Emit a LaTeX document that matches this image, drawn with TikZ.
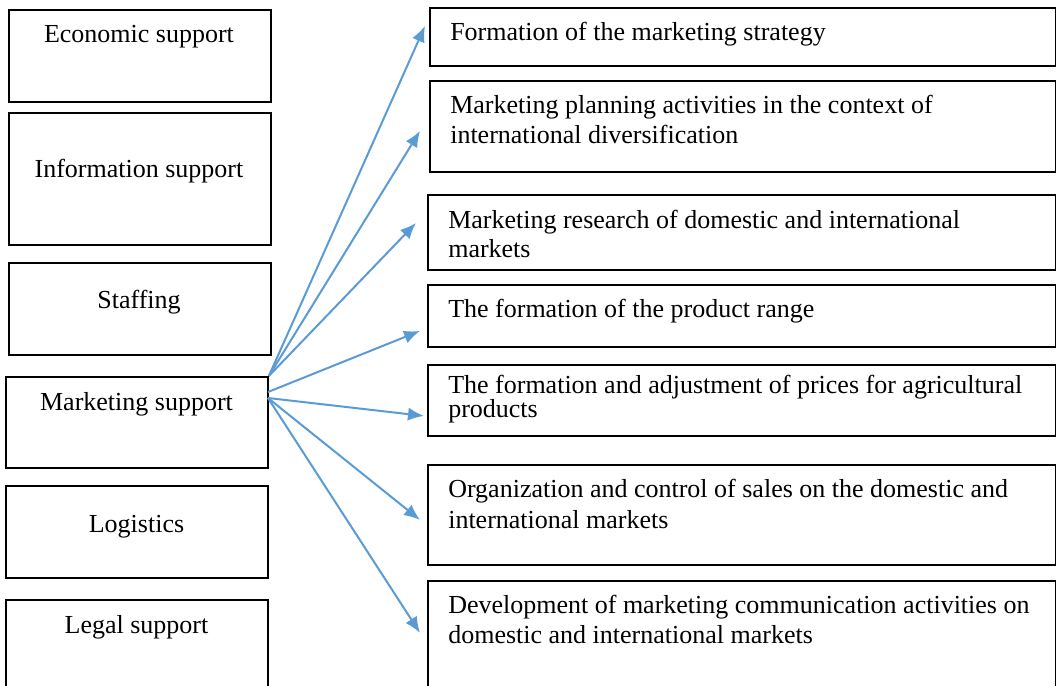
\documentclass[tikz,border=0pt]{standalone}
\usepackage{fontspec}
\setmainfont{Liberation Serif}
\usetikzlibrary{arrows.meta}
\definecolor{linkblue}{RGB}{91,155,213}

\begin{document}
\begin{tikzpicture}[x=0.75pt,y=-0.75pt,
  box/.style={draw=black,line width=1.4pt,minimum width=196.5pt,anchor=north west,inner sep=0pt},
  rbox/.style={box,minimum width=471pt},
  txt/.style={font=\fontsize{19.5}{22.5}\selectfont,inner sep=0pt},
  rtxt/.style={txt,anchor=base west,align=left},
  link/.style={draw=linkblue,line width=1.5pt,-{Latex[length=12pt,width=10pt]}}]
\clip (0,0) rectangle (1056,685);

% Kinds of support
\node[box,minimum height=69pt] (eco) at (8,9) {};
\node[box,minimum height=99pt] (info) at (8,112) {};
\node[box,minimum height=69pt] (staff) at (8,262) {};
\node[box,minimum height=68.25pt] (mkt) at (5,376) {};
\node[box,minimum height=69pt] (logi) at (5,485) {};
\node[box,minimum height=75pt] (legal) at (5,599) {};

\node[txt,anchor=base] (ecotxt) at (139,43) {Economic support};
\node[txt,anchor=base] (infotxt) at (139,177) {Information support};
\node[txt,anchor=base] (stafftxt) at (139,308) {Staffing};
\node[txt,anchor=base] (mkttxt) at (136.5,410) {Marketing support};
\node[txt,anchor=base] (logitxt) at (136.5,532) {Logistics};
\node[txt,anchor=base] (legaltxt) at (136.5,633) {Legal support};

% Marketing tasks (text placed at the baseline of its last line)
\node[rbox,minimum width=469.5pt,minimum height=43.5pt] (s1) at (429,7) {};
\node[rbox,minimum width=469.5pt,minimum height=68.25pt] (s2) at (429,80) {};
\node[rbox,minimum height=56.25pt] (s3) at (427,194) {};
\node[rbox,minimum height=46.5pt] (s4) at (427,284) {};
\node[rbox,minimum height=53.25pt] (s5) at (427,364) {};
\node[rbox,minimum height=75pt] (s6) at (427,464) {};
\node[rbox,minimum height=90pt] (s7) at (427,580) {};

\node[rtxt] (s1txt) at (450,41) {Formation of the marketing strategy};
\node[rtxt] (s2txt) at (450,143) {Marketing planning activities in the context of\\international diversification};
\node[rtxt] (s3txt) at (448,257) {Marketing research of domestic and international\\[-0.75pt]markets};
\node[rtxt] (s4txt) at (448,317) {The formation of the product range};
\node[rtxt] (s5txt) at (448,417) {The formation and adjustment of prices for agricultural\\[-4.5pt]products};
\node[rtxt] (s6txt) at (448,528) {Organization and control of sales on the domestic and\\[0.75pt]international markets};
\node[rtxt] (s7txt) at (448,643) {Development of marketing communication activities on\\domestic and international markets};

% Arrows
\coordinate (mktmid) at (268,392);
\coordinate (mktlow) at (268,398);
\draw[link] (mkt.north east) -- ([shift={(-4,-11)}]s1.west);
\draw[link] (mkt.north east) -- ([shift={(-9,4.5)}]s2.west);
\draw[link] (mkt.north east) -- ([shift={(-11,-9.5)}]s3.west);
\draw[link] (mktmid) -- ([shift={(-7,15)}]s4.west);
\draw[link] (mktlow) -- ([shift={(-3,15.5)}]s5.west);
\draw[link] (mktlow) -- ([shift={(-7,5)}]s6.west);
\draw[link] (mktlow) -- ([shift={(-7,-8)}]s7.west);
\end{tikzpicture}
\end{document}
